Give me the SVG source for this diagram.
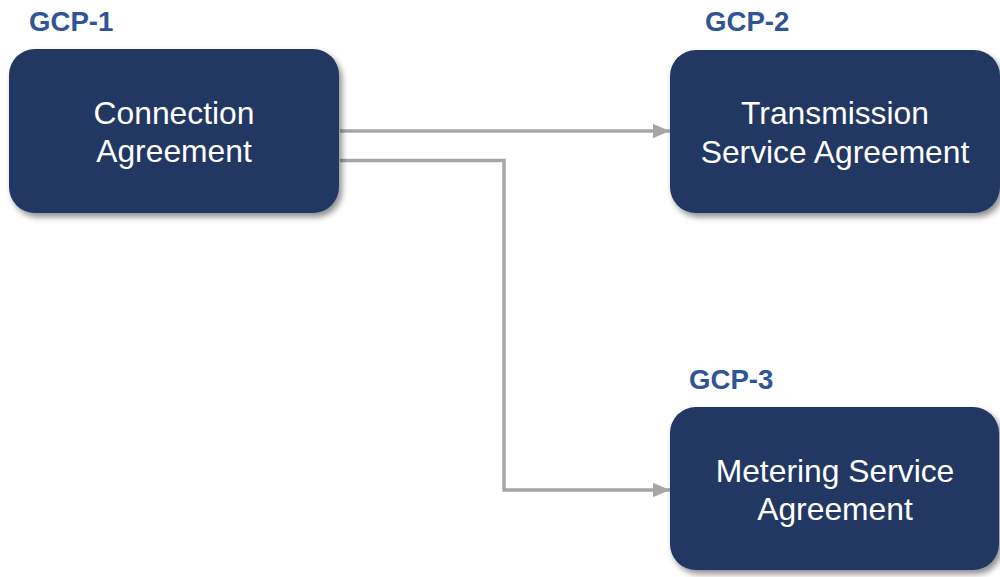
<svg xmlns="http://www.w3.org/2000/svg" width="1000" height="577" viewBox="0 0 1000 577">
<defs>
<style>
.box{fill:#203864;filter:url(#sh);}
.lbl{font-family:"Liberation Sans",Arial,sans-serif;font-size:31.8px;fill:#ffffff;text-anchor:middle;}
.gcp{font-family:"Liberation Sans",Arial,sans-serif;font-size:27.6px;font-weight:bold;fill:#2f5597;}
.con{fill:none;stroke:#a6a6a6;stroke-width:3.5;marker-end:url(#ah);}
</style>
<filter id="sh" x="-10%" y="-10%" width="125%" height="130%">
<feGaussianBlur in="SourceAlpha" stdDeviation="3"/>
<feOffset dx="3" dy="4" result="b"/>
<feComponentTransfer><feFuncA type="linear" slope="0.45"/></feComponentTransfer>
<feMerge><feMergeNode/><feMergeNode in="SourceGraphic"/></feMerge>
</filter>
<marker id="ah" markerWidth="5" markerHeight="4.2" refX="5" refY="2.1" orient="auto" markerUnits="strokeWidth">
<path d="M0,0 L5,2.1 L0,4.2 Z" fill="#a6a6a6"/>
</marker>
</defs>
<rect width="1000" height="577" fill="#ffffff"/>
<g id="connectors">
<path class="con" d="M340,131 L670,131"/>
<path class="con" d="M340,160.5 L504,160.5 L504,490 L670,490"/>
</g>
<g id="node1">
<text class="gcp" x="29" y="31">GCP-1</text>
<rect class="box" x="9" y="49" width="330" height="164" rx="26"/>
<text class="lbl" x="174" y="124">Connection</text>
<text class="lbl" x="174" y="162">Agreement</text>
</g>
<g id="node2">
<text class="gcp" x="705" y="31">GCP-2</text>
<rect class="box" x="670" y="50" width="330" height="163" rx="26"/>
<text class="lbl" x="835" y="124">Transmission</text>
<text class="lbl" x="835" y="163">Service Agreement</text>
</g>
<g id="node3">
<text class="gcp" x="689" y="389">GCP-3</text>
<rect class="box" x="670" y="407" width="329" height="163" rx="26"/>
<text class="lbl" x="835" y="482">Metering Service</text>
<text class="lbl" x="835" y="520">Agreement</text>
</g>
</svg>
